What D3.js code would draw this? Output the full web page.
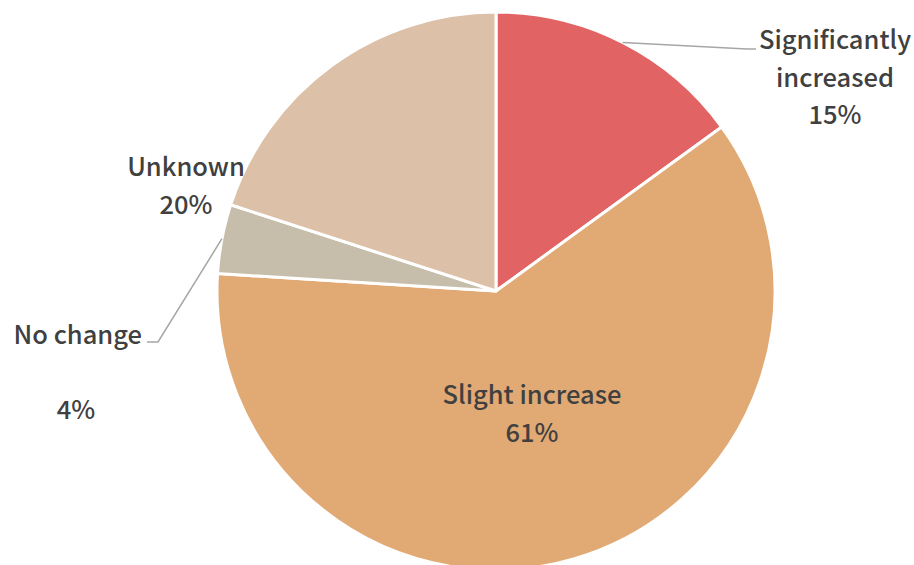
<!DOCTYPE html>
<html>
<head>
<meta charset="utf-8">
<script src="https://cdn.jsdelivr.net/npm/d3@7"></script>
<style>
  html, body { margin: 0; padding: 0; background: #fff; }
  svg { display: block; }
  text { font-family: "Noto Sans CJK JP", "Noto Sans", sans-serif; font-weight: 500; fill: #404040; }
</style>
</head>
<body>
<svg id="chart" width="914" height="565"></svg>
<script>
// Survey answers, in clockwise order from 12 o'clock
const categories = ["Significantly increased", "Slight increase", "No change", "Unknown"];
const shares = [15, 61, 4, 20];
const colors = ["#E26363", "#E1AA74", "#C6BEAB", "#DCC0A7"];
const labelLines = [["Significantly", "increased", "15%"], ["Slight increase", "61%"], ["No change", "", "4%"], ["Unknown", "20%"]];

const width = 914, height = 565;
const cx = 496, cy = 291, radius = 279;

const svg = d3.select("#chart");
const g = svg.append("g").attr("transform", `translate(${cx},${cy})`);

const pie = d3.pie().sort(null).value(d => d.value);
const arcs = pie(categories.map((c, i) => ({ name: c, value: shares[i], color: colors[i] })));
const arc = d3.arc().innerRadius(0).outerRadius(radius);

g.selectAll("path.slice")
  .data(arcs)
  .join("path")
  .attr("class", "slice")
  .attr("d", arc)
  .attr("fill", d => d.data.color)
  .attr("stroke", "#fff")
  .attr("stroke-width", 3)
  .attr("stroke-linejoin", "round");

// Label anchor positions (relative to the pie centre)
const lineH = 37.5;
const labelPos = [
  { x: 339, y: -242, anchor: "middle" },
  { x: 36, y: 113, anchor: "middle" },
  { x: -354, y: 53, anchor: "end" },
  { x: -310, y: -115, anchor: "middle" }
];

arcs.forEach((a, i) => {
  const p = labelPos[i];
  const t = g.append("text")
    .attr("text-anchor", p.anchor)
    .attr("font-size", 25.5);
  labelLines[i].forEach((ln, k) => {
    t.append("tspan")
      .attr("x", (i === 2 && k === 2) ? -420 : p.x)
      .attr("text-anchor", (i === 2 && k === 2) ? "middle" : null)
      .attr("y", p.y + k * lineH)
      .text(ln);
  });
});

// Leader lines for the two slices whose labels sit outside the pie
function leader(a, pts) {
  const mid = (a.startAngle + a.endAngle) / 2;
  const sx = Math.sin(mid) * radius, sy = -Math.cos(mid) * radius;
  g.append("polyline")
    .attr("points", [[sx, sy], ...pts].map(p => p.join(",")).join(" "))
    .attr("fill", "none")
    .attr("stroke", "#A6A6A6")
    .attr("stroke-width", 1.5);
}
leader(arcs[0], [[251, -242], [260, -242]]);
leader(arcs[2], [[-338, 51], [-349, 51]]);
</script>
</body>
</html>
